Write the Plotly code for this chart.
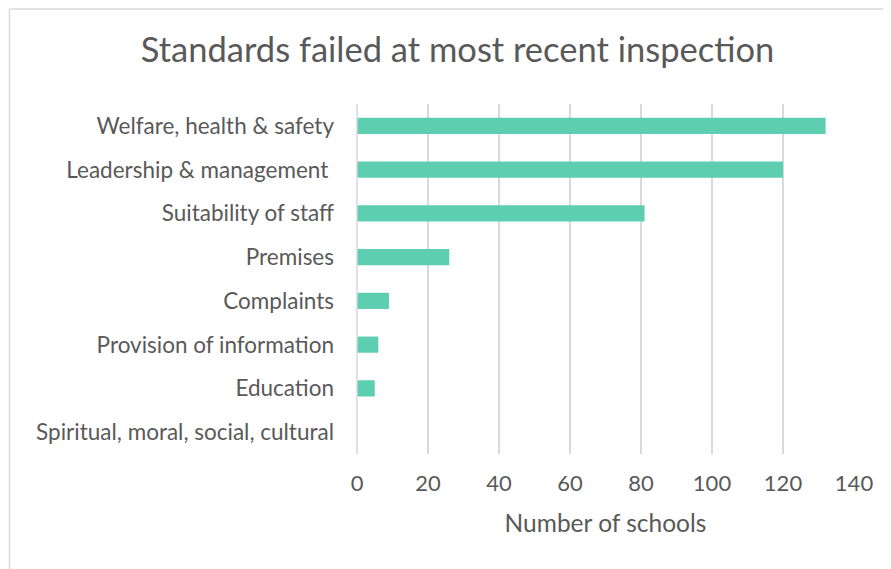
import plotly.graph_objects as go

categories = [
    "Welfare, health & safety",
    "Leadership & management\u00a0",
    "Suitability of staff",
    "Premises",
    "Complaints",
    "Provision of information",
    "Education",
    "Spiritual, moral, social, cultural",
]
schools = [132, 120, 81, 26, 9, 6, 5, 0]
x_ticks = [0, 20, 40, 60, 80, 100, 120, 140]

OFF = 8  # page body margin
W, H = 891, 569
L, T = 357 - OFF, 104 - OFF
pw, ph = 497, 350
R = W - L - pw
B = H - T - ph

def px_x(p):
    return (p - OFF - L) / pw

def px_y(p):
    return (T + ph - (p - OFF)) / ph

fig = go.Figure(go.Bar(
    y=categories, x=schools, orientation="h",
    marker=dict(color="#5DCFB0", line=dict(width=0)),
))

font = "Lato, Open Sans, sans-serif"
fig.update_layout(
    width=W, height=H,
    margin=dict(l=L, r=R, t=T, b=B, pad=0),
    paper_bgcolor="white", plot_bgcolor="white",
    bargap=0.63,
    showlegend=False,
    font=dict(family=font, color="#595959", size=22.5),
    title=dict(text="Standards failed at most recent inspection",
               x=px_x(457.5), xanchor="center", xref="paper",
               y=1 - (50 - OFF) / H, yanchor="middle",
               font=dict(size=34.5, color="#595959", family=font)),
    xaxis=dict(range=[0, 140], tickvals=x_ticks, showgrid=True,
               gridcolor="#D9D9D9", gridwidth=1.5, zeroline=False,
               showline=False, ticks="", ticklabelstandoff=14,
               tickfont=dict(size=22, color="#595959"),
               title=dict(text="Number of schools", standoff=19,
                          font=dict(size=24.5, color="#595959"))),
    yaxis=dict(autorange="reversed", showgrid=False, zeroline=False,
               showline=False, ticks="", ticklabelstandoff=22,
               tickfont=dict(size=22.5, color="#595959")),
    shapes=[
        dict(type="line", xref="paper", yref="paper",
             x0=px_x(9.5), x1=px_x(9.5), y0=px_y(9), y1=px_y(620),
             line=dict(color="#D9D9D9", width=1.5)),
        dict(type="line", xref="paper", yref="paper",
             x0=px_x(9.5), x1=px_x(940), y0=px_y(9), y1=px_y(9),
             line=dict(color="#D9D9D9", width=1.5)),
        dict(type="line", xref="paper", yref="paper",
             x0=0, x1=0, y0=0, y1=1,
             line=dict(color="#D9D9D9", width=1.5)),
    ],
)

fig.write_html("out.html")
